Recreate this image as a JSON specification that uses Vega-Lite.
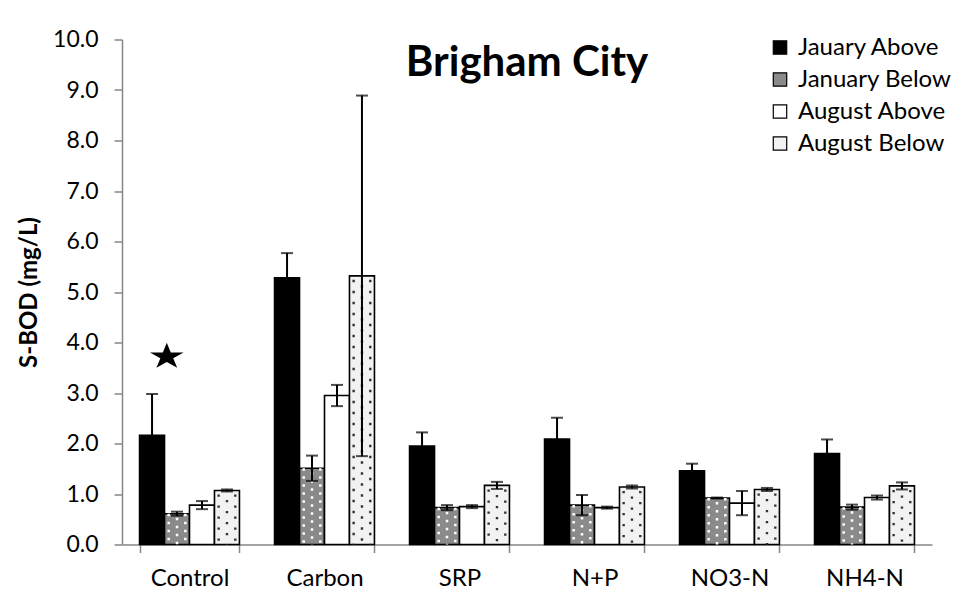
{
  "$schema": "https://vega.github.io/schema/vega-lite/v6.json",
  "autosize": "none",
  "width": 810,
  "height": 505,
  "padding": {"left": 122, "top": 39.5, "right": 33, "bottom": 55.5},
  "background": "white",
  "config": {
    "font": "Lato",
    "view": {"stroke": null},
    "axis": {"domainColor": "#868686", "tickColor": "#868686", "domainWidth": 1.5, "tickWidth": 1.5, "labelColor": "#000", "labelFont": "Lato", "labelFontSize": 23, "grid": false},
    "legend": {"labelFont": "Lato", "labelFontSize": 24, "labelColor": "#000"}
  },
  "title": {"text": "Brigham City", "font": "Lato", "fontSize": 42, "fontWeight": "bold", "color": "#000", "anchor": "middle", "orient": "top", "offset": -56},
  "datasets": {
    "sbod": [
      {"cat": "Control", "series": "Jauary Above", "value": 2.16, "lo": 1.34, "hi": 2.98},
      {"cat": "Control", "series": "January Below", "value": 0.61, "lo": 0.57, "hi": 0.65},
      {"cat": "Control", "series": "August Above", "value": 0.78, "lo": 0.70, "hi": 0.86},
      {"cat": "Control", "series": "August Below", "value": 1.07, "lo": 1.05, "hi": 1.09},
      {"cat": "Carbon", "series": "Jauary Above", "value": 5.28, "lo": 4.79, "hi": 5.77},
      {"cat": "Carbon", "series": "January Below", "value": 1.51, "lo": 1.26, "hi": 1.76},
      {"cat": "Carbon", "series": "August Above", "value": 2.95, "lo": 2.74, "hi": 3.16},
      {"cat": "Carbon", "series": "August Below", "value": 5.32, "lo": 1.75, "hi": 8.89},
      {"cat": "SRP", "series": "Jauary Above", "value": 1.95, "lo": 1.68, "hi": 2.22},
      {"cat": "SRP", "series": "January Below", "value": 0.73, "lo": 0.68, "hi": 0.78},
      {"cat": "SRP", "series": "August Above", "value": 0.75, "lo": 0.72, "hi": 0.78},
      {"cat": "SRP", "series": "August Below", "value": 1.17, "lo": 1.10, "hi": 1.24},
      {"cat": "N+P", "series": "Jauary Above", "value": 2.09, "lo": 1.67, "hi": 2.51},
      {"cat": "N+P", "series": "January Below", "value": 0.78, "lo": 0.58, "hi": 0.98},
      {"cat": "N+P", "series": "August Above", "value": 0.73, "lo": 0.71, "hi": 0.75},
      {"cat": "N+P", "series": "August Below", "value": 1.14, "lo": 1.11, "hi": 1.17},
      {"cat": "NO3-N", "series": "Jauary Above", "value": 1.46, "lo": 1.32, "hi": 1.60},
      {"cat": "NO3-N", "series": "January Below", "value": 0.92, "lo": 0.91, "hi": 0.93},
      {"cat": "NO3-N", "series": "August Above", "value": 0.82, "lo": 0.58, "hi": 1.06},
      {"cat": "NO3-N", "series": "August Below", "value": 1.09, "lo": 1.06, "hi": 1.12},
      {"cat": "NH4-N", "series": "Jauary Above", "value": 1.80, "lo": 1.52, "hi": 2.08},
      {"cat": "NH4-N", "series": "January Below", "value": 0.74, "lo": 0.69, "hi": 0.79},
      {"cat": "NH4-N", "series": "August Above", "value": 0.93, "lo": 0.89, "hi": 0.97},
      {"cat": "NH4-N", "series": "August Below", "value": 1.16, "lo": 1.09, "hi": 1.23}
    ],
    "note": [{"cat": "Control", "marker": 3.72}]
  },
  "data": {"name": "sbod"},
  "encoding": {
    "x": {
      "field": "cat", "type": "nominal", "sort": null, "title": null,
      "scale": {"domain": ["Control", "Carbon", "SRP", "N+P", "NO3-N", "NH4-N"], "paddingInner": 0.26, "paddingOuter": 0.13},
      "axis": {"labelAngle": 0, "tickBand": "extent", "tickSize": 8, "labelPadding": 14, "labelFontSize": 24}
    }
  },
  "resolve": {"scale": {"xOffset": "independent"}},
  "layer": [
    {
      "mark": {"type": "bar", "stroke": "#000", "strokeWidth": 1.6},
      "encoding": {
        "xOffset": {"field": "series", "type": "nominal", "scale": {"domain": ["Jauary Above", "January Below", "August Above", "August Below"], "padding": 0}},
        "y": {
          "field": "value", "type": "quantitative", "title": "S-BOD (mg/L)",
          "scale": {"domain": [0, 10], "nice": false},
          "axis": {"values": [0, 1, 2, 3, 4, 5, 6, 7, 8, 9, 10], "format": ".1f", "tickSize": 8, "labelPadding": 16, "titleFont": "Lato", "titleFontSize": 24, "titleFontWeight": "bold", "titleColor": "#000", "titlePadding": 11}
        },
        "fill": {
          "field": "series", "type": "nominal", "title": null,
          "scale": {"domain": ["Jauary Above", "January Below", "August Above", "August Below"], "range": ["#000000", "#8a8a8a", "#ffffff", "#f2f2f2"]},
          "legend": {"orient": "none", "legendX": 646, "legendY": -4, "symbolType": "square", "symbolSize": 180, "symbolStrokeColor": "#000", "symbolStrokeWidth": 1.2, "rowPadding": 8, "labelOffset": 6}
        }
      }
    },
    {
      "transform": [{"filter": "datum.series === 'January Below'"}],
      "layer": [
        {"mark": {"type": "rule", "color": "#ffffff", "strokeWidth": 2.5, "strokeDash": [2.5, 5.5]},
         "encoding": {"xOffset": {"datum": "s3", "type": "nominal", "scale": {"domain": ["s0","s1","s2","s3","s4","s5","s6","s7","s8","s9","s10","s11"], "padding": 0}}}},
        {"mark": {"type": "rule", "color": "#ffffff", "strokeWidth": 2.5, "strokeDash": [2.5, 5.5], "strokeDashOffset": 4},
         "encoding": {"xOffset": {"datum": "s4", "type": "nominal", "scale": {"domain": ["s0","s1","s2","s3","s4","s5","s6","s7","s8","s9","s10","s11"], "padding": 0}}}},
        {"mark": {"type": "rule", "color": "#ffffff", "strokeWidth": 2.5, "strokeDash": [2.5, 5.5]},
         "encoding": {"xOffset": {"datum": "s5", "type": "nominal", "scale": {"domain": ["s0","s1","s2","s3","s4","s5","s6","s7","s8","s9","s10","s11"], "padding": 0}}}}
      ],
      "encoding": {"y": {"field": "value", "type": "quantitative"}, "y2": {"datum": 0}},
      "resolve": {"scale": {"xOffset": "independent"}}
    },
    {
      "transform": [{"filter": "datum.series === 'August Below'"}],
      "layer": [
        {"mark": {"type": "rule", "color": "#333333", "strokeWidth": 2.4, "strokeDash": [2.4, 8.6], "strokeDashOffset": -4},
         "encoding": {"xOffset": {"datum": "s9", "type": "nominal", "scale": {"domain": ["s0","s1","s2","s3","s4","s5","s6","s7","s8","s9","s10","s11"], "padding": 0}}}},
        {"mark": {"type": "rule", "color": "#333333", "strokeWidth": 2.4, "strokeDash": [2.4, 8.6], "strokeDashOffset": -9.5},
         "encoding": {"xOffset": {"datum": "s10", "type": "nominal", "scale": {"domain": ["s0","s1","s2","s3","s4","s5","s6","s7","s8","s9","s10","s11"], "padding": 0}}}},
        {"mark": {"type": "rule", "color": "#333333", "strokeWidth": 2.4, "strokeDash": [2.4, 8.6], "strokeDashOffset": -4},
         "encoding": {"xOffset": {"datum": "s11", "type": "nominal", "scale": {"domain": ["s0","s1","s2","s3","s4","s5","s6","s7","s8","s9","s10","s11"], "padding": 0}}}}
      ],
      "encoding": {"y": {"field": "value", "type": "quantitative"}, "y2": {"datum": 0}},
      "resolve": {"scale": {"xOffset": "independent"}}
    },
    {
      "encoding": {"xOffset": {"field": "series", "type": "nominal", "scale": {"domain": ["Jauary Above", "January Below", "August Above", "August Below"], "padding": 0}}},
      "layer": [
        {"mark": {"type": "rule", "color": "#000", "strokeWidth": 2},
         "encoding": {"y": {"field": "lo", "type": "quantitative"}, "y2": {"field": "hi"}}},
        {"mark": {"type": "tick", "color": "#000", "thickness": 2, "size": 12, "orient": "horizontal"},
         "encoding": {"y": {"field": "lo", "type": "quantitative"}}},
        {"mark": {"type": "tick", "color": "#000", "thickness": 2, "size": 12, "orient": "horizontal"},
         "encoding": {"y": {"field": "hi", "type": "quantitative"}}}
      ]
    },
    {
      "data": {"name": "note"},
      "mark": {"type": "point", "filled": true, "color": "#000", "opacity": 1, "size": 1250,
        "shape": "M0,-0.78 L0.2245,-0.241 L0.951,-0.241 L0.363,0.092 L0.588,0.631 L0,0.298 L-0.588,0.631 L-0.363,0.092 L-0.951,-0.241 L-0.2245,-0.241 Z"},
      "encoding": {
        "xOffset": {"datum": "s3", "type": "nominal", "scale": {"domain": ["s0","s1","s2","s3","s4","s5","s6","s7","s8","s9","s10","s11"], "padding": 0}},
        "y": {"field": "marker", "type": "quantitative"}
      }
    }
  ]
}
